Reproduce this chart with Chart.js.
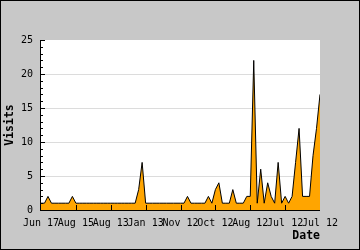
<!DOCTYPE html>
<html>
<head>
<meta charset="utf-8">
<script src="https://cdn.jsdelivr.net/npm/chart.js@4"></script>
<style>
  html, body { margin: 0; padding: 0; background: #c8c8c8; }
  #chart { display: block; }
</style>
</head>
<body>
<canvas id="chart" width="360" height="250"></canvas>
<script>
// visits per point, left to right (81 points, tick every 10)
const visits = [
  1,1,2,1,1,1,1,1,1,2,
  1,1,1,1,1,1,1,1,1,1,
  1,1,1,1,1,1,1,1,3,7,
  1,1,1,1,1,1,1,1,1,1,
  1,1,2,1,1,1,1,1,2,1,
  3,4,1,1,1,3,1,1,1,2,
  2,22,1,6,1,4,2,1,7,1,
  2,1,2,7,12,2,2,2,8,12,
  17
];
const tickLabels = ["Jun 17","Aug 15","Aug 13","Jan 13","Nov 12","Oct 12","Aug 12","Jul 12","Jul 12"];
const tickEvery = 10;
const yTitle = "Visits", xTitle = "Date";

const MONO = "'DejaVu Sans Mono', 'Liberation Mono', monospace";
Chart.defaults.font.family = MONO;
Chart.defaults.font.size = 10;
Chart.defaults.color = "#000";

const frame = {
  id: "frame",
  beforeDraw(chart) {
    const {ctx, chartArea: a, width, height} = chart;
    ctx.save();
    ctx.fillStyle = "#c8c8c8";
    ctx.fillRect(0, 0, width, height);
    ctx.fillStyle = "#fff";
    ctx.fillRect(a.left, a.top, a.right - a.left, a.bottom - a.top);
    ctx.restore();
  },
  afterDatasetsDraw(chart) {
    const {ctx, chartArea: a, scales: {x, y}} = chart;
    ctx.save();
    ctx.strokeStyle = "#000";
    ctx.lineWidth = 1;
    ctx.beginPath();
    for (let v = 0; v <= 25; v++) {
      const py = Math.round(y.getPixelForValue(v)) + 0.5;
      ctx.moveTo(a.left - 1, py);
      ctx.lineTo(a.left + (v % 5 === 0 ? 4 : 2), py);
    }
    for (let i = tickEvery; i < visits.length - 1; i += tickEvery) {
      const px = Math.round(x.getPixelForValue(i)) + 0.5;
      ctx.moveTo(px, a.bottom);
      ctx.lineTo(px, a.bottom - 5);
    }
    ctx.moveTo(a.left - 0.5, a.top);
    ctx.lineTo(a.left - 0.5, a.bottom + 0.5);
    ctx.lineTo(a.right, a.bottom + 0.5);
    ctx.stroke();
    ctx.restore();
  },
  afterDraw(chart) {
    const {ctx, chartArea: a, width, height} = chart;
    ctx.save();
    ctx.strokeStyle = "#000";
    ctx.lineWidth = 1;
    ctx.strokeRect(0.5, 0.5, width - 1, height - 1);
    ctx.fillStyle = "#000";
    ctx.font = "bold 11.5px " + MONO;
    ctx.textBaseline = "middle";
    ctx.textAlign = "right";
    ctx.fillText(xTitle, a.right, 236);
    ctx.translate(10, (a.top + a.bottom) / 2);
    ctx.rotate(-Math.PI / 2);
    ctx.textAlign = "center";
    ctx.fillText(yTitle, 0, 0);
    ctx.restore();
  }
};

new Chart(document.getElementById("chart"), {
  type: "line",
  data: {
    datasets: [{
      data: visits.map((v, i) => ({x: i, y: v})),
      borderColor: "#000",
      borderWidth: 1,
      backgroundColor: "#ffa500",
      fill: "origin",
      pointRadius: 0,
      tension: 0
    }]
  },
  options: {
    responsive: false,
    animation: false,
    layout: {padding: {left: 0, right: 40, top: 40, bottom: 0}},
    plugins: {legend: {display: false}, tooltip: {enabled: false}},
    scales: {
      x: {
        type: "linear", min: 0, max: visits.length - 1,
        afterFit: s => { s.height = 40; },
        grid: {display: false, drawTicks: false},
        border: {display: false},
        ticks: {
          stepSize: tickEvery, autoSkip: false, maxRotation: 0, padding: 7,
          callback: v => tickLabels[v / tickEvery] ?? ""
        }
      },
      y: {
        min: 0, max: 25,
        afterFit: s => { s.width = 41; },
        grid: {
          drawTicks: false,
          color: c => (c.tick.value === 0 || c.tick.value === 25) ? "rgba(0,0,0,0)" : "#dcdcdc"
        },
        border: {display: false},
        ticks: {stepSize: 5, padding: 8}
      }
    }
  },
  plugins: [frame]
});
</script>
</body>
</html>
